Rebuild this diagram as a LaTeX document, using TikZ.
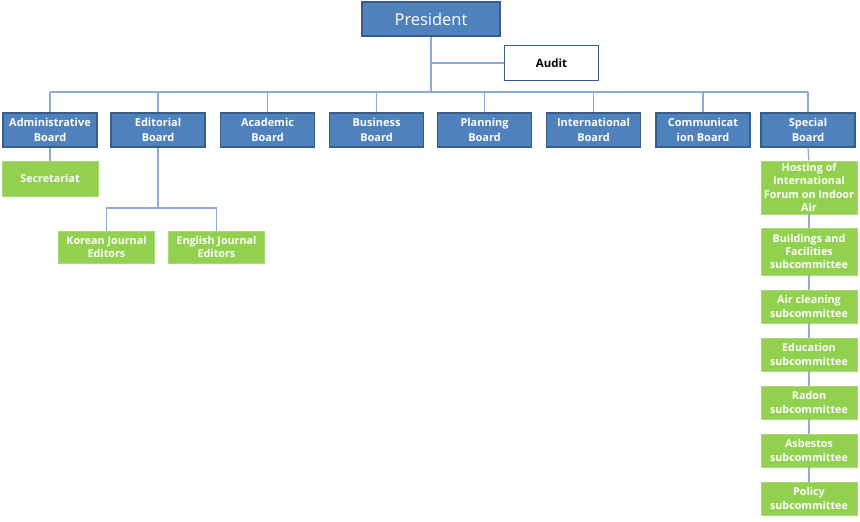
\documentclass[tikz,border=0pt]{standalone}
\usepackage{fontspec}
\setmainfont{Open Sans}
\definecolor{boardfill}{HTML}{4F81BD}
\definecolor{boardline}{HTML}{385D8A}
\definecolor{subfill}{HTML}{92D050}
\definecolor{wire}{HTML}{8EAADB}
\tikzset{
  board/.style={draw=boardline, line width=1.6bp, fill=boardfill, text=white, font=\bfseries\fontsize{11}{14.5}\selectfont, align=center, inner sep=0pt, minimum width=94bp, minimum height=34bp},
  sub/.style={draw=subfill!80!white, line width=0.8bp, fill=subfill, text=white, font=\bfseries\fontsize{10.8}{13.3}\selectfont, align=center, inner sep=0pt, minimum width=96bp},
  wireline/.style={draw=wire, line width=1.3bp}
}
\begin{document}
\begin{tikzpicture}[x=1bp,y=-1bp]
\useasboundingbox (0,0) rectangle (860,522);
% top
\node[board, minimum width=138bp, minimum height=34bp, font=\fontsize{16.5}{19}\selectfont] (pres) at (431,19) {President};
\node[draw=boardline, line width=1.6bp, fill=white, font=\bfseries\fontsize{11.5}{13}\selectfont, inner sep=0pt, minimum width=94bp, minimum height=35bp] (audit) at (551.5,63) {Audit};
% boards
\node[board] (adm) at (50,130) {Administrative\\Board};
\node[board] (edi) at (158,130) {Editorial\\Board};
\node[board] (aca) at (267.5,130) {Academic\\Board};
\node[board] (bus) at (376.5,130) {Business\\Board};
\node[board] (pla) at (484.5,130) {Planning\\Board};
\node[board] (int) at (593.5,130) {International\\Board};
\node[board] (com) at (703,130) {Communicat\\ion Board};
\node[board] (spe) at (808,130) {Special\\Board};
% subs
\node[sub, minimum height=35bp] (sec) at (50,178.5) {Secretariat};
\node[sub, minimum height=32bp] (kor) at (106.5,247) {Korean Journal\\Editors};
\node[sub, minimum height=32bp] (eng) at (216.5,247) {English Journal\\Editors};
\node[sub, minimum height=53bp] (hos) at (809,187.5) {Hosting of\\International\\Forum on Indoor\\Air};
\node[sub, minimum height=47bp] (bui) at (809,251.5) {Buildings and\\Facilities\\subcommittee};
\node[sub, minimum height=33bp] (air) at (809,306.5) {Air cleaning\\subcommittee};
\node[sub, minimum height=33bp] (edu) at (809,354.5) {Education\\subcommittee};
\node[sub, minimum height=33bp] (rad) at (809,402.5) {Radon\\subcommittee};
\node[sub, minimum height=33bp] (asb) at (809,450.5) {Asbestos\\subcommittee};
\node[sub, minimum height=33bp] (pol) at (809,498.5) {Policy\\subcommittee};
% connectors
\coordinate (bus0) at (431,92);
\coordinate (busL) at (50,92);
\coordinate (busR) at (808,92);
\coordinate (edj) at (158,208);
\draw[wireline] (pres.south) -- (bus0);
\draw[wireline] (pres.south |- audit.west) -- (audit.west);
\draw[wireline] (busL) -- (busR);
\foreach \b in {adm,edi,aca,bus,pla,int,com,spe}{
  \draw[wireline] (\b.north |- bus0) -- (\b.north);
}
\draw[wireline] (adm.south) -- (sec.north);
\draw[wireline] (edi.south) -- (edj);
\draw[wireline] (kor.north) |- (edj) -| (eng.north);
\draw[wireline] (spe.south) -- (hos.north);
\draw[wireline] (hos.south) -- (bui.north);
\draw[wireline] (bui.south) -- (air.north);
\draw[wireline] (air.south) -- (edu.north);
\draw[wireline] (edu.south) -- (rad.north);
\draw[wireline] (rad.south) -- (asb.north);
\draw[wireline] (asb.south) -- (pol.north);
\end{tikzpicture}
\end{document}
